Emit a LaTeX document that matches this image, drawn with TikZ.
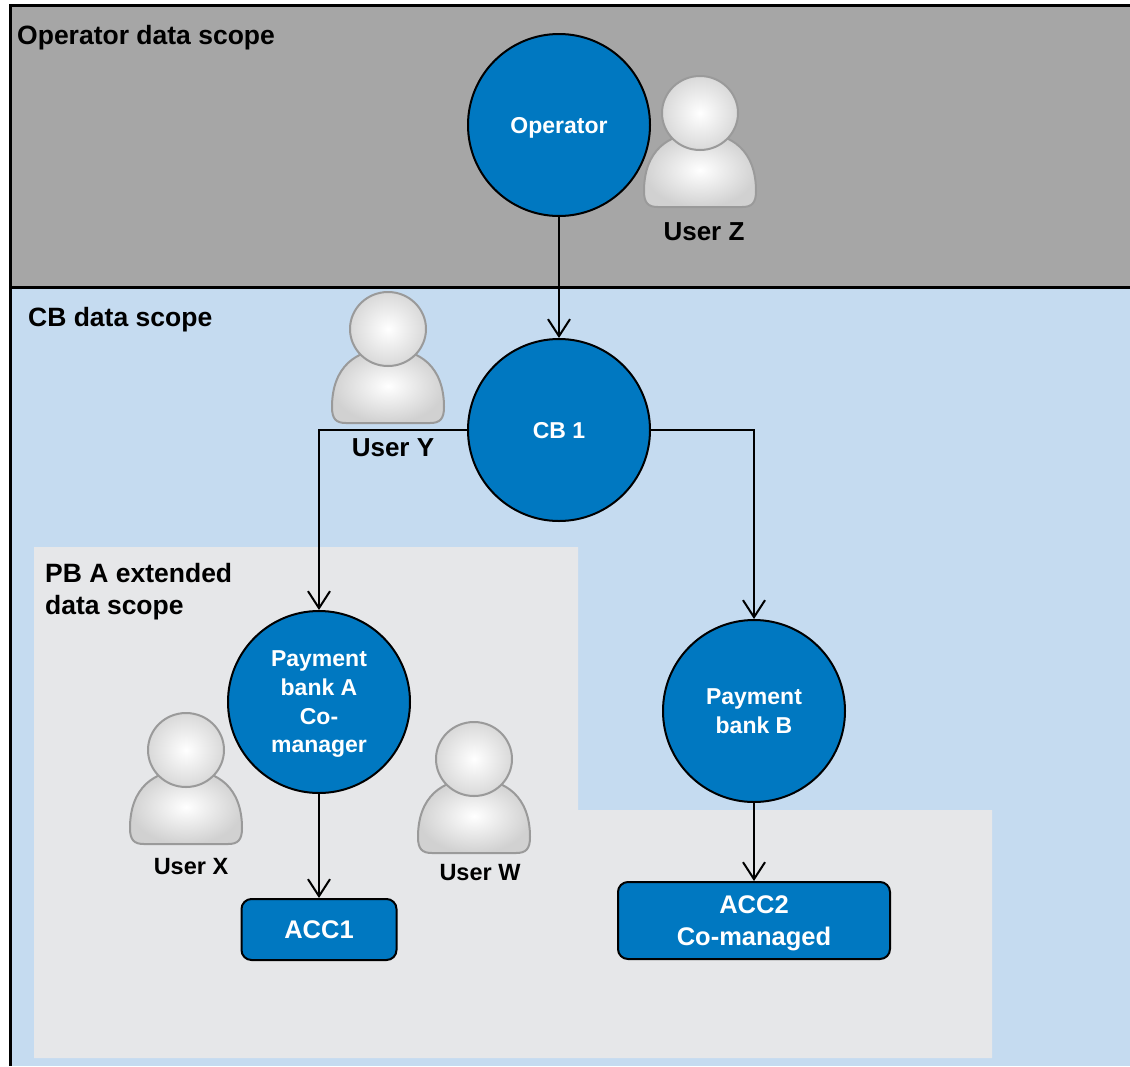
\documentclass[tikz,border=0pt]{standalone}
\usepackage{fontspec}
\setmainfont{Liberation Sans}
\usetikzlibrary{arrows.meta}
\definecolor{opgray}{HTML}{A6A6A6}
\definecolor{cbblue}{HTML}{C5DBF0}
\definecolor{pbgray}{HTML}{E6E7E9}
\definecolor{nodeblue}{HTML}{0078C1}
\definecolor{iconrim}{HTML}{9A9A9A}
\tikzset{
  usericon/.pic={
    \shade[draw=iconrim, line width=2pt, inner color=white, outer color=black!18]
      (-56,78) .. controls (-56,38) and (-32,20) .. (0,20)
      .. controls (32,20) and (56,38) .. (56,78)
      .. controls (56,90) and (52,94) .. (42,94) -- (-42,94)
      .. controls (-52,94) and (-56,90) .. (-56,78) -- cycle;
    \shade[draw=iconrim, line width=2pt, inner color=white, outer color=black!15]
      (0,0) ellipse [x radius=38pt, y radius=37pt];
  }
}
\begin{document}
\begin{tikzpicture}[x=1pt,y=-1pt,
  ent/.style={circle, draw=black, line width=2pt, fill=nodeblue, minimum size=182pt, inner sep=0pt, text=white, text depth=0pt, font=\bfseries\fontsize{23}{28.7}\selectfont, align=center},
  acc/.style={rectangle, rounded corners=10pt, draw=black, line width=2pt, fill=nodeblue, text=white, text depth=0pt, font=\bfseries\fontsize{25.5}{32}\selectfont, align=center, inner sep=0pt},
  scopelbl/.style={font=\bfseries\fontsize{26.5}{32}\selectfont, align=left, inner sep=0pt},
  usrlbl/.style={font=\bfseries\fontsize{26}{30}\selectfont, inner sep=0pt},
  usrlbls/.style={font=\bfseries\fontsize{23.5}{28}\selectfont, inner sep=0pt},
  arr/.style={-{Straight Barb[length=17pt,width=22pt,line width=2pt]}, line width=2pt}
]
\useasboundingbox (0,0) rectangle (1130,1066);
% scopes
\fill[cbblue] (10,287) rectangle (1130,1066);
\fill[opgray] (10,5) rectangle (1130,287);
\fill[pbgray] (34,547) -- (578,547) -- (578,810) -- (992,810) -- (992,1058) -- (34,1058) -- cycle;
\draw[line width=3pt] (1130,5) -- (10,5) -- (10,1066);
\draw[line width=3pt] (10,287) -- (1130,287);
% scope labels
\node[scopelbl, anchor=base west] (opscope) at (17,44) {Operator data scope};
\node[scopelbl, anchor=base west] (cbscope) at (28,326) {CB data scope};
\node[scopelbl, anchor=west] (pbscope) at (45,592) {PB A extended\\data scope};
% user icons
\pic at (700,113) {usericon};
\pic at (388,329) {usericon};
\pic at (186,750) {usericon};
\pic at (474,759) {usericon};
\node[usrlbl, anchor=base] (uz) at (704,240) {User Z};
\node[usrlbl, anchor=base] (uy) at (393,456) {User Y};
\node[usrlbls, anchor=base] (ux) at (191,874) {User X};
\node[usrlbls, anchor=base] (uw) at (480,880) {User W};
% entities
\node[ent] (op) at (559,125) {Operator};
\node[ent] (cb) at (559,430) {CB 1};
\node[ent] (pba) at (319,702) {Payment\\bank A\\Co-\\manager};
\node[ent] (pbb) at (754,711) {Payment\\bank B};
\node[acc, minimum width=155pt, minimum height=61pt] (acc1) at (319,929.5) {ACC1};
\node[acc, minimum width=272pt, minimum height=77pt] (acc2) at (754,920.5) {ACC2\\Co-managed};
% connectors
\draw[arr] (op) -- (cb);
\draw[arr] (cb.west) -| (pba.north);
\draw[arr] (cb.east) -| (pbb.north);
\draw[arr] (pba) -- (acc1);
\draw[arr] (pbb) -- (acc2);
\end{tikzpicture}
\end{document}
